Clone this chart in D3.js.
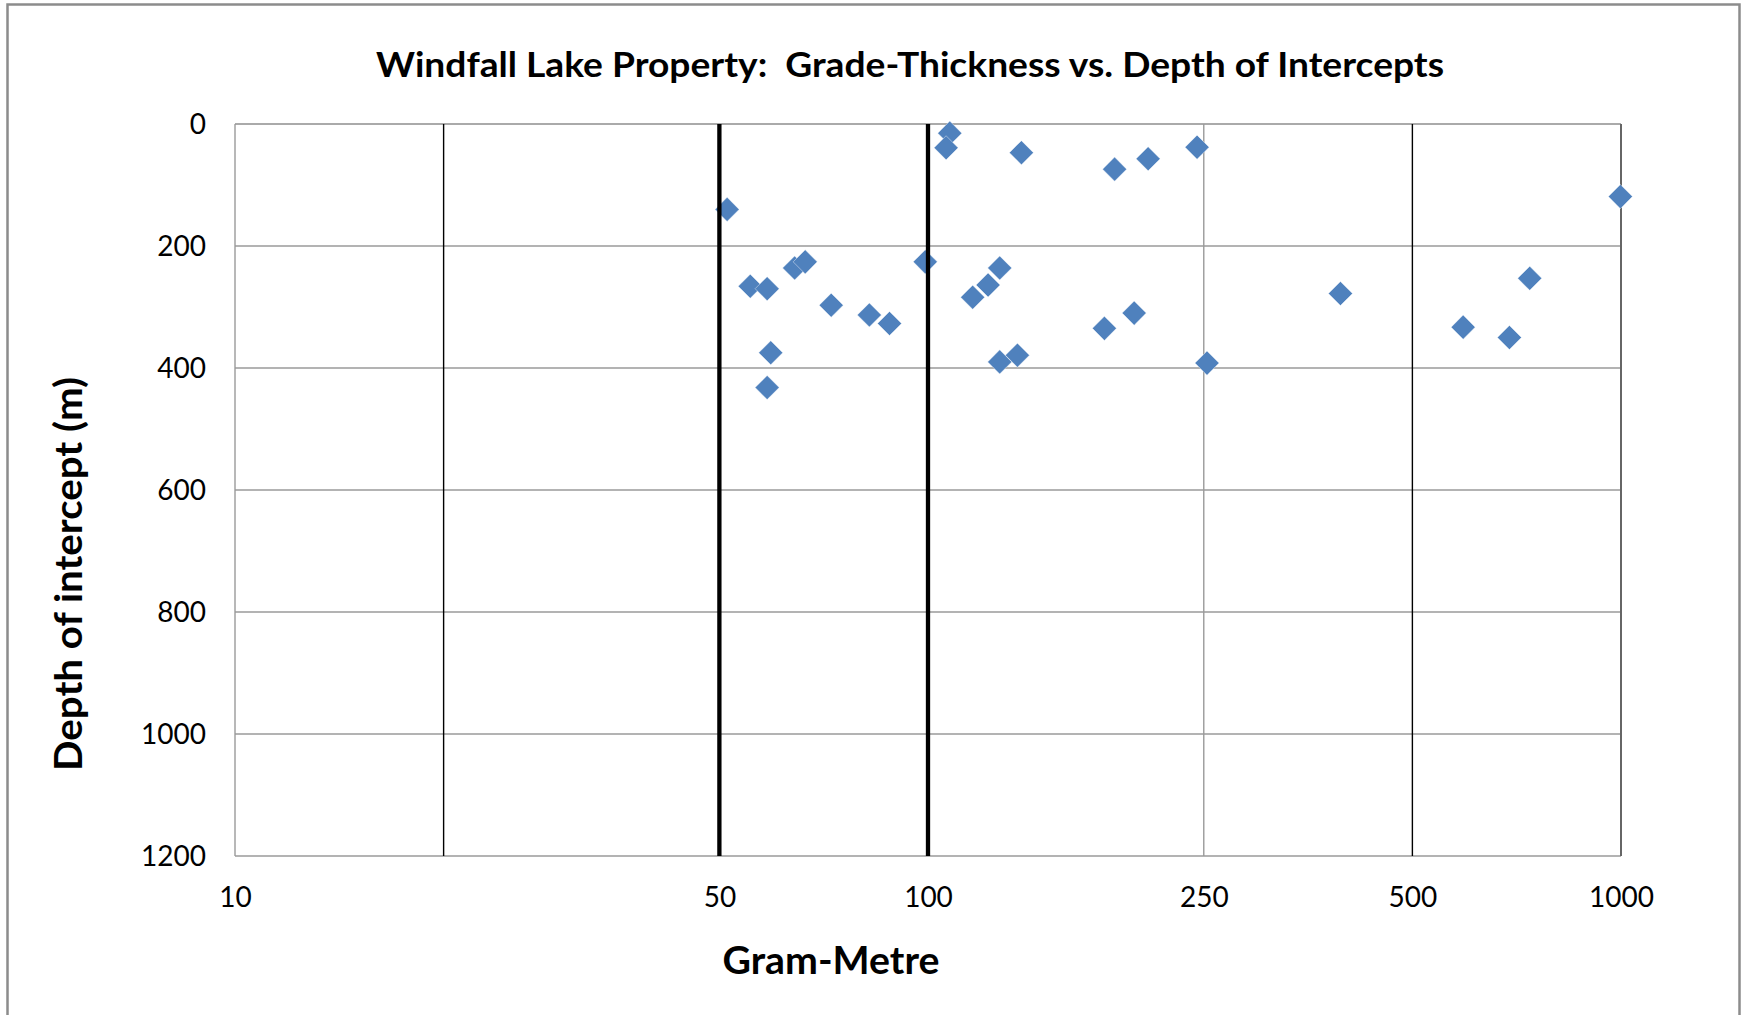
<!DOCTYPE html>
<meta charset="utf-8">
<style>
body { margin: 0; background: #fff; }
text { font-family: Lato, "Open Sans", sans-serif; fill: #000; }
.tick text { font-size: 28px; }
.title { font-size: 34px; font-weight: bold; white-space: pre; }
.axis-title { font-size: 38px; font-weight: bold; }
</style>
<body>
<script src="https://cdnjs.cloudflare.com/ajax/libs/d3/7.8.5/d3.min.js"></script>
<script>

// grade-thickness (gram-metre) and depth of each intercept
var gramMetre = [51.3, 55.4, 58.6, 64.2, 66.5, 72.5, 82.3, 88.0, 59.3, 58.6,
                 99.1, 107.5, 106.2, 136.4, 185.9, 207.8, 244.5, 126.9, 122.1, 116.0,
                 126.9, 134.6, 179.7, 198.4, 252.7, 393.7, 591.9, 690.2, 738.4, 998];
var depth = [140, 266, 270, 236, 226, 297, 313, 327, 375, 432,
             226, 15, 39, 47, 74, 57, 38, 236, 264, 284,
             390, 379, 335, 310, 392, 278, 333, 350, 253, 119];

var xTicks = [10, 50, 100, 250, 500, 1000];
var yTicks = [0, 200, 400, 600, 800, 1000, 1200];
var vLines = [20, 50, 100, 250, 500, 1000];   // vertical grid / cut-off lines

var W = 1748, H = 1015;
var margin = {top: 124, right: 127, bottom: 159, left: 235},
    width = W - margin.left - margin.right,
    height = H - margin.top - margin.bottom;

var svg = d3.select("body").append("svg")
    .attr("width", W)
    .attr("height", H);

// outer frame
svg.append("rect")
    .attr("x", 7.5).attr("y", 4.5)
    .attr("width", 1732).attr("height", H + 10)
    .attr("fill", "#fff")
    .attr("stroke", "#8c8c8c")
    .attr("stroke-width", 2.5);

var g = svg.append("g")
    .attr("transform", "translate(" + margin.left + "," + margin.top + ")");

var x = d3.scaleLog().domain([10, 1000]).range([0, width]);
var y = d3.scaleLinear().domain([0, 1200]).range([0, height]);

// horizontal gridlines
g.selectAll(".hgrid")
    .data(yTicks)
  .enter().append("line")
    .attr("class", "hgrid")
    .attr("x1", 0).attr("x2", width)
    .attr("y1", function(d) { return y(d); })
    .attr("y2", function(d) { return y(d); })
    .attr("stroke", function(d) { return d == 0 ? "#aaa" : "#9a9a9a"; })
    .attr("stroke-width", function(d) { return d == 0 ? 2 : 1.4; });

// left edge
g.append("line")
    .attr("x1", x(10)).attr("x2", x(10))
    .attr("y1", 0).attr("y2", height)
    .attr("stroke", "#9a9a9a").attr("stroke-width", 1.4);

function vColor(d) {
  if (d == 250) return "#9a9a9a";
  if (d == 1000) return "#666";
  return "#000";
}
function vWidth(d) {
  if (d == 50 || d == 100) return 4.3;
  if (d == 1000) return 2;
  return 1.4;
}

// thin vertical lines go below the markers
g.selectAll(".vgrid")
    .data(vLines.filter(function(d) { return d != 50 && d != 100; }))
  .enter().append("line")
    .attr("class", "vgrid")
    .attr("x1", function(d) { return x(d); })
    .attr("x2", function(d) { return x(d); })
    .attr("y1", 0).attr("y2", height)
    .attr("stroke", vColor)
    .attr("stroke-width", vWidth);

// diamonds
var pts = gramMetre.map(function(v, i) { return {gm: v, depth: depth[i]}; });
var diamond = d3.symbol().type(d3.symbolSquare).size(290);

g.selectAll(".pt")
    .data(pts)
  .enter().append("path")
    .attr("class", "pt")
    .attr("d", diamond)
    .attr("transform", function(d) {
      return "translate(" + x(d.gm) + "," + y(d.depth) + ") rotate(45)";
    })
    .attr("fill", "#4f81bd")
    .attr("stroke", "#fff")
    .attr("stroke-opacity", 0.5)
    .attr("stroke-width", 0.8);

// 50 and 100 g-m cut-off lines drawn on top
g.selectAll(".vcut")
    .data(vLines.filter(function(d) { return d == 50 || d == 100; }))
  .enter().append("line")
    .attr("class", "vcut")
    .attr("x1", function(d) { return x(d); })
    .attr("x2", function(d) { return x(d); })
    .attr("y1", 0).attr("y2", height)
    .attr("stroke", vColor)
    .attr("stroke-width", vWidth);

// axes (labels only)
var yAxis = g.append("g")
    .call(d3.axisLeft(y).tickValues(yTicks).tickSize(0).tickPadding(29).tickFormat(d3.format("d")));
yAxis.select(".domain").remove();
yAxis.selectAll("text").attr("dy", "0.35em");

var xAxis = g.append("g")
    .attr("transform", "translate(0," + height + ")")
    .call(d3.axisBottom(x).tickValues(xTicks).tickSize(0).tickPadding(31).tickFormat(d3.format("d")));
xAxis.select(".domain").remove();

// titles
svg.append("text")
    .attr("class", "title")
    .attr("x", 910).attr("y", 68)
    .attr("text-anchor", "middle")
    .attr("dominant-baseline", "middle")
    .attr("textLength", 1068)
    .attr("lengthAdjust", "spacingAndGlyphs")
    .text("Windfall Lake Property:  Grade-Thickness vs. Depth of Intercepts");

svg.append("text")
    .attr("class", "axis-title")
    .attr("transform", "translate(72,574) rotate(-90)")
    .attr("text-anchor", "middle")
    .attr("dominant-baseline", "middle")
    .attr("textLength", 394)
    .attr("lengthAdjust", "spacingAndGlyphs")
    .text("Depth of intercept (m)");

svg.append("text")
    .attr("class", "axis-title")
    .attr("x", 831).attr("y", 964)
    .attr("text-anchor", "middle")
    .attr("dominant-baseline", "middle")
    .attr("textLength", 217)
    .attr("lengthAdjust", "spacingAndGlyphs")
    .text("Gram-Metre");

</script>
</body>
